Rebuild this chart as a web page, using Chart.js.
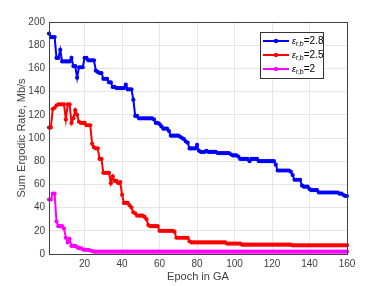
<!DOCTYPE html>
<html>
<head>
<meta charset="utf-8">
<script src="https://cdn.jsdelivr.net/npm/chart.js@4"></script>
<style>
  body { margin: 0; background: #fff; }
  #wrap { width: 382px; height: 286px; }
</style>
</head>
<body>
<div id="wrap"><canvas id="myChart" width="382" height="286"></canvas></div>
<script>
// epochs 1..160 (index of the GA generation)
var epochs = [];
for (var i = 1; i <= 160; i++) epochs.push(i);

var xTicks = [20, 40, 60, 80, 100, 120, 140, 160];
var yTicks = [0, 20, 40, 60, 80, 100, 120, 140, 160, 180, 200];

var seriesNames = ['2.8', '2.5', '2'];
var seriesColors = ['#0000ff', '#ff0000', '#ff00ff'];

// eps_rb = 2.8
var rate28 = [190, 187,187,187, 169,169, 176, 166,166,166,166,166, 169, 162,162, 152, 161,161,161, 169,169,
  167,167,167,167, 158,157,156,156, 151,151,151, 148,148, 144,144, 143,143,143,143,143, 146, 142,142,142, 133,
  119,119, 117,117,117,117,117,117,117,117, 116, 113,113, 112, 110, 108,108,108, 106, 102,102,102,102,102,
  101, 100, 99, 97, 96, 91,91,91,91, 94, 89, 88,88,88, 89, 88,88,88,88,88, 87,87,87,87,87,87,87, 86,
  85,85,85, 84, 82,82,82,82,82, 80, 82,82,82,82, 80,80,80,80,80,80,80,80,80, 77, 72,72,72,72,72,72,72,
  71, 68, 64,64,64,64, 59, 58,58,58, 56, 55,55,55,55, 53,53,53,53,53,53,53,53,53,53,53, 52,52, 51, 50,50];

// eps_rb = 2.5
var rate25 = [109,109, 125, 126, 128, 129,129,129,129, 116, 129,129, 113, 117, 124, 120, 114, 113,113,113,
  111,111,111, 95, 92, 91,91, 82,82, 70,70,70,70, 61, 67, 63,63, 61, 62, 51, 44,44,44, 42, 40, 36, 35,
  33,33,33,33, 32, 30, 25, 24,24,24,24,24, 20,20,20,20,20,20,20,20, 19, 14,14,14,14,14,14,14, 11,
  10,10,10,10,10,10,10,10,10,10,10,10,10,10,10,10,10,10,10,
  9,9,9,9,9,9,9,9,
  8,8,8,8,8,8,8,8,8,8,8,8,8,8,8,8,8,8,8,8,8,8,8,8,8,8,8,
  7.5,7.5,7.5,7.5,7.5,7.5,7.5,7.5,7.5,7.5,7.5,7.5,7.5,7.5,7.5,
  7.5,7.5,7.5,7.5,7.5,7.5,7.5,7.5,7.5,7.5,7.5,7.5,7.5,7.5,7.5];

// eps_rb = 2
var rate2 = [47,47, 52,52, 28, 24,24,24, 22, 14, 10, 13, 7,7,7, 6, 5,5, 4, 3.5,3.5,3.5, 3, 2.5,
  2,2,2,2,2,2,2,2,2,2,2,2,2,2,2,2,2,2,2,2,2,2,2,2,2,2,2,2,2,2,2,2,2,2,2,2,2,2,2,2,2,2,2,2,
  2,2,2,2,2,2,2,2,2,2,2,2,2,2,2,2,2,2,2,2,2,2,2,2,2,2,2,2,2,2,2,2,2,2,2,2,2,2,2,2,2,2,2,2,
  2,2,2,2,2,2,2,2,2,2,2,2,2,2,2,2,2,2,2,2,2,2,2,2,2,2,2,2,2,2,2,2,2,2,2,2,2,2,2,2,2,2,2,2,
  2,2,2,2,2,2,2,2,2,2,2,2,2,2,2,2,2,2,2,2,2,2,2,2,2,2,2,2,2,2,2,2,2,2,2,2,2,2,2,2,2,2,2,2];
rate2 = rate2.slice(0, 160);

var allRates = [rate28, rate25, rate2];

var axisColor = '#404040';
var font = 'Liberation Sans, Arial, sans-serif';

// box around the plot + MATLAB-style legend with subscripts
var matlabDecor = {
  id: 'matlabDecor',
  afterDraw: function(chart) {
    var ctx = chart.ctx, a = chart.chartArea;
    ctx.save();
    ctx.strokeStyle = axisColor;
    ctx.lineWidth = 1;
    ctx.strokeRect(Math.round(a.left) + 0.5, Math.round(a.top) + 0.5,
                   Math.round(a.right - a.left), Math.round(a.bottom - a.top));

    // legend
    var lx = 260.5, ly = 32.5, lw = 63, lh = 46;
    ctx.fillStyle = '#fff';
    ctx.fillRect(lx, ly, lw, lh);
    ctx.strokeStyle = '#333';
    ctx.strokeRect(lx, ly, lw, lh);
    for (var k = 0; k < seriesNames.length; k++) {
      var yy = 41 + k * 14;
      ctx.strokeStyle = seriesColors[k];
      ctx.lineWidth = 2;
      ctx.beginPath();
      ctx.moveTo(263, yy);
      ctx.lineTo(289, yy);
      ctx.stroke();
      ctx.fillStyle = seriesColors[k];
      ctx.beginPath();
      ctx.arc(276, yy, 2.2, 0, Math.PI * 2);
      ctx.fill();
      ctx.fillStyle = '#000';
      ctx.textBaseline = 'middle';
      ctx.textAlign = 'left';
      ctx.font = 'italic 9px ' + font;
      ctx.fillText('\u03b5', 292, yy);
      var w = ctx.measureText('\u03b5').width;
      ctx.font = '7px ' + font;
      ctx.fillText('r,b', 292 + w, yy + 3);
      var w2 = ctx.measureText('r,b').width;
      ctx.font = '10px ' + font;
      ctx.fillText('=' + seriesNames[k], 292 + w + w2, yy);
    }
    ctx.restore();
  }
};

var datasets = [];
for (var s = 0; s < allRates.length; s++) {
  datasets.push({
    label: seriesNames[s],
    data: allRates[s],
    borderColor: seriesColors[s],
    backgroundColor: seriesColors[s],
    borderWidth: 2,
    pointRadius: 2.1,
    pointBorderWidth: 0,
    pointHoverRadius: 2.1,
    clip: false,
    order: 2 - s
  });
}

var ctx = document.getElementById('myChart').getContext('2d');
var chart = new Chart(ctx, {
  type: 'line',
  data: { labels: epochs, datasets: datasets },
  options: {
    responsive: false,
    animation: false,
    events: [],
    layout: { padding: { left: 0, top: 22, right: 35, bottom: 0 } },
    plugins: { legend: { display: false }, tooltip: { enabled: false } },
    scales: {
      x: {
        type: 'linear',
        min: 1,
        max: 160,
        afterBuildTicks: function(scale) {
          scale.ticks = xTicks.map(function(v) { return { value: v }; });
        },
        afterFit: function(scale) { scale.height = 32; },
        grid: { color: '#e6e6e6', drawTicks: false },
        border: { display: true, color: axisColor },
        ticks: { color: axisColor, font: { size: 10, family: font }, padding: 4, maxRotation: 0 },
        title: { display: true, text: 'Epoch in GA', color: axisColor,
                 font: { size: 11, family: font }, padding: { top: 0, bottom: 2 } }
      },
      y: {
        min: 0,
        max: 200,
        afterBuildTicks: function(scale) {
          scale.ticks = yTicks.map(function(v) { return { value: v }; });
        },
        afterFit: function(scale) { scale.width = 49; },
        grid: { color: '#e6e6e6', drawTicks: false },
        border: { display: true, color: axisColor },
        ticks: { color: axisColor, font: { size: 10, family: font }, padding: 4 },
        title: { display: true, text: 'Sum Ergodic Rate, Mb/s', color: axisColor,
                 font: { size: 11, family: font }, padding: { top: 15, bottom: 0 } }
      }
    }
  },
  plugins: [matlabDecor]
});
</script>
</body>
</html>
